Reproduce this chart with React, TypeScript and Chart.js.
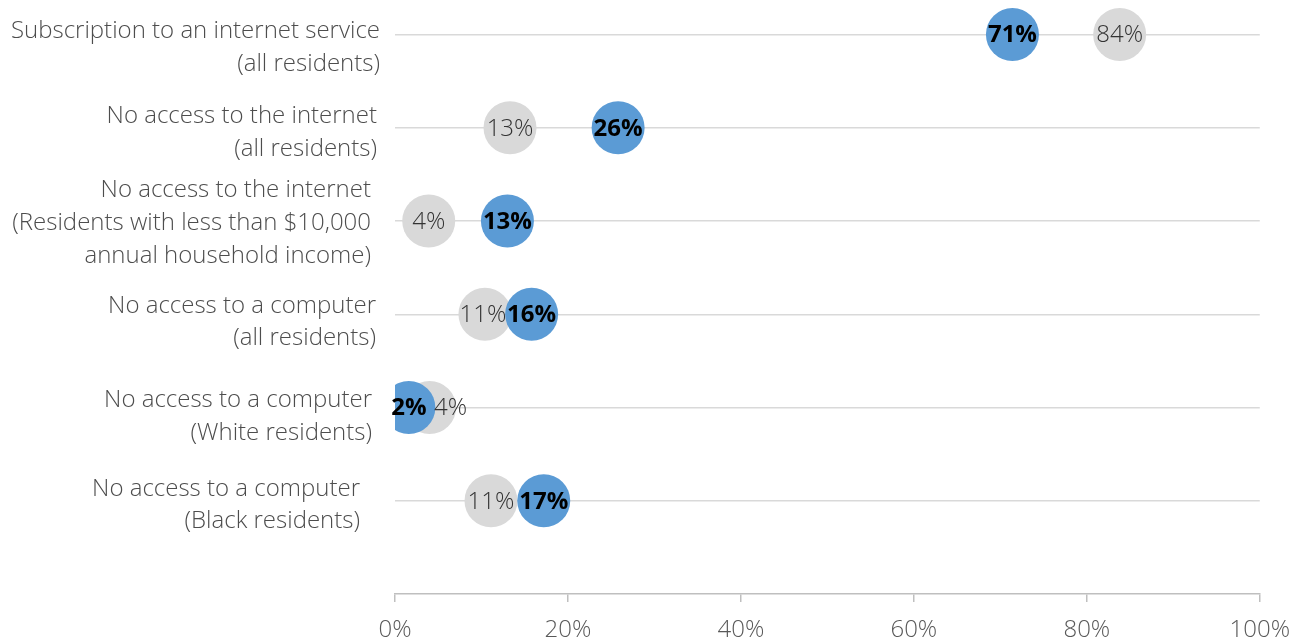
import React, { useEffect, useRef } from 'react';
import { Chart, registerables } from 'chart.js';

Chart.register(...registerables);

const categories: string[][] = [
  ['Subscription to an internet service', '(all residents)'],
  ['No access to the internet', '(all residents)'],
  ['No access to the internet', '(Residents with less than $10,000', 'annual household income)'],
  ['No access to a computer', '(all residents)'],
  ['No access to a computer', '(White residents)'],
  ['No access to a computer', '(Black residents)'],
];
const grayValues = [83.8, 13.3, 3.9, 10.4, 4.0, 11.1];
const grayLabels = ['84%', '13%', '4%', '11%', '4%', '11%'];
const blueValues = [71.4, 25.8, 13.0, 15.8, 1.6, 17.2];
const blueLabels = ['71%', '26%', '13%', '16%', '2%', '17%'];
const xTickValues = [0, 20, 40, 60, 80, 100];

const FONT = '"Open Sans", "Noto Sans", sans-serif';
const rowY = (i: number) => categories.length - i;

// layout tweaks for text (pixels)
const labelGap = [15, 18, 24, 19, 23, 35];
const labelDy = [20, 11.5, 9, 14.7, 16, 11.3];
const grayLabelShift = [0, 0, 0, -2, 21, 0];

const textPlugin = {
  id: 'dotText',
  afterDatasetsDraw(chart: any) {
    const ctx = chart.ctx;
    const xs = chart.scales.x;
    const ys = chart.scales.y;
    ctx.save();
    ctx.textAlign = 'center';
    ctx.textBaseline = 'middle';
    grayValues.forEach((v, i) => {
      ctx.font = `300 24px ${FONT}`;
      ctx.fillStyle = '#333333';
      ctx.fillText(
        grayLabels[i],
        xs.getPixelForValue(v) + grayLabelShift[i],
        ys.getPixelForValue(rowY(i)) + 1
      );
    });
    blueValues.forEach((v, i) => {
      ctx.font = `bold 24px ${FONT}`;
      ctx.fillStyle = '#000000';
      ctx.fillText(blueLabels[i], xs.getPixelForValue(v), ys.getPixelForValue(rowY(i)) + 1);
    });
    // category labels
    ctx.textAlign = 'right';
    ctx.textBaseline = 'alphabetic';
    ctx.font = `300 24px ${FONT}`;
    ctx.fillStyle = '#4d4d4d';
    const lh = 32.7;
    categories.forEach((lines, i) => {
      const py = ys.getPixelForValue(rowY(i));
      const n = lines.length;
      lines.forEach((line, k) => {
        const y = py + labelDy[i] + (k - (n - 1) / 2) * lh;
        ctx.fillText(line, chart.chartArea.left - labelGap[i], y);
      });
    });
    ctx.restore();
  },
};

export default function App() {
  const ref = useRef<HTMLCanvasElement>(null);
  useEffect(() => {
    document.body.style.margin = '0';
    const chart = new Chart(ref.current!, {
      type: 'scatter',
      data: {
        datasets: [
          {
            label: 'gray',
            data: grayValues.map((v, i) => ({ x: v, y: rowY(i) })),
            backgroundColor: '#D9D9D9',
            borderWidth: 0,
            pointRadius: 26.5,
            pointHoverRadius: 26.5,
            order: 2,
          },
          {
            label: 'blue',
            data: blueValues.map((v, i) => ({ x: v, y: rowY(i) })),
            backgroundColor: '#5B9BD5',
            borderWidth: 0,
            pointRadius: 26.5,
            pointHoverRadius: 26.5,
            order: 1,
          },
        ],
      },
      options: {
        responsive: false,
        animation: false,
        events: [],
        layout: { autoPadding: false, padding: { left: 395, right: 43, top: 0, bottom: 0 } },
        plugins: { legend: { display: false }, tooltip: { enabled: false } },
        scales: {
          x: {
            type: 'linear',
            min: 0,
            max: 100,
            afterBuildTicks: (scale: any) => {
              scale.ticks = xTickValues.map((v) => ({ value: v }));
            },
            afterFit: (scale: any) => {
              scale.height = 48;
            },
            ticks: {
              callback: (v: any) => `${v}%`,
              color: '#595959',
              font: { family: FONT, size: 24, weight: '300' as any },
              padding: 14,
              maxRotation: 0,
            },
            grid: {
              drawOnChartArea: false,
              drawTicks: true,
              tickLength: 8,
              color: '#BFBFBF',
              lineWidth: 1.5,
            },
            border: { display: true, color: '#BFBFBF', width: 1.5 },
          },
          y: {
            type: 'linear',
            min: 0,
            max: 6.37,
            afterBuildTicks: (scale: any) => {
              scale.ticks = [1, 2, 3, 4, 5, 6].map((v) => ({ value: v }));
            },
            afterFit: (scale: any) => {
              scale.width = 0;
            },
            ticks: { display: false },
            grid: { drawTicks: false, color: '#D9D9D9', lineWidth: 1.5 },
            border: { display: false },
          },
        },
      },
      plugins: [textPlugin],
    });
    return () => chart.destroy();
  }, []);
  return (
    <canvas
      ref={ref}
      width={1304}
      height={642}
      style={{ display: 'block', position: 'absolute', left: 0, top: 0 }}
    />
  );
}
